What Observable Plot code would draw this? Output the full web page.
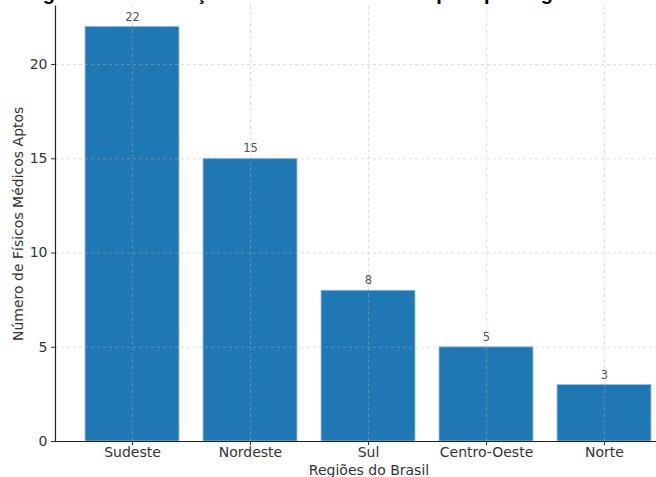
<!DOCTYPE html>
<html>
<head>
<meta charset="utf-8">
<script src="https://cdn.jsdelivr.net/npm/d3@7"></script>
<script src="https://cdn.jsdelivr.net/npm/@observablehq/plot@0.6"></script>
<style>
  html, body { margin: 0; padding: 0; background: #fff; }
  #wrap { width: 656px; height: 477px; overflow: hidden; position: relative; }
  #wrap svg { position: absolute; left: 0; top: 0; max-width: none !important; width: 682px; height: 477px; }
</style>
</head>
<body>
<div id="wrap"></div>
<script>
const regioes = ["Sudeste", "Nordeste", "Sul", "Centro-Oeste", "Norte"];
const fisicos = [22, 15, 8, 5, 3];
const yTicks = [0, 5, 10, 15, 20];
const titulo = "Figura 1: Distribuição de Físicos Médicos aptos por região";
const xLabel = "Regiões do Brasil";
const yLabel = "Número de Físicos Médicos Aptos";

const data = regioes.map((r, i) => ({ regiao: r, valor: fisicos[i] }));
const font = "DejaVu Sans, sans-serif";
const gridStyle = { stroke: "#b0b0b0", strokeOpacity: 0.55, strokeDasharray: "3,3", strokeWidth: 0.8 };

const chart = Plot.plot({
  width: 682,
  height: 477,
  marginLeft: 55,
  marginRight: 0,
  marginTop: 5.6,
  marginBottom: 36,
  style: { fontFamily: font, background: "#fff", color: "#333", maxWidth: "none" },
  x: { domain: regioes, paddingInner: 0.2, paddingOuter: 0.24, label: null },
  y: { domain: [0, 23.1], label: null },
  marks: [
    Plot.barY(data, { x: "regiao", y: "valor", fill: "#1f77b4", stroke: "#9fc3de", strokeWidth: 0.8 }),
    Plot.gridY(yTicks, gridStyle),
    Plot.gridX(regioes, gridStyle),
    Plot.text(data, { x: "regiao", y: "valor", text: d => String(d.valor), dy: -10, fontSize: 11.5, fill: "#555", fontFamily: font }),
    Plot.ruleY([0], { stroke: "#222", strokeWidth: 1.2 }),
    Plot.axisY({ ticks: yTicks, tickSize: 4, tickPadding: 4, fontSize: 14, label: null, color: "#333" }),
    Plot.axisX({ tickSize: 4, tickPadding: 1.5, fontSize: 14, label: null, color: "#333" }),
    Plot.frame({ anchor: "left", stroke: "#222", strokeWidth: 1.2 }),
    Plot.text([xLabel], { frameAnchor: "bottom", dy: 33, fontSize: 14, fill: "#333", fontFamily: font }),
    Plot.text([yLabel], { frameAnchor: "left", textAnchor: "middle", dx: -37, rotate: -90, fontSize: 14, fill: "#333", fontFamily: font })
  ]
});

// Título: cortado no topo da imagem de referência, só os descendentes aparecem
d3.select(chart).append("text")
  .attr("x", 25)
  .attr("y", -0.5)
  .attr("text-anchor", "start")
  .attr("font-family", "Liberation Sans, Arial, sans-serif")
  .attr("font-weight", "bold")
  .attr("font-size", 20)
  .attr("fill", "#000")
  .text(titulo);

document.getElementById("wrap").appendChild(chart);
</script>
</body>
</html>
